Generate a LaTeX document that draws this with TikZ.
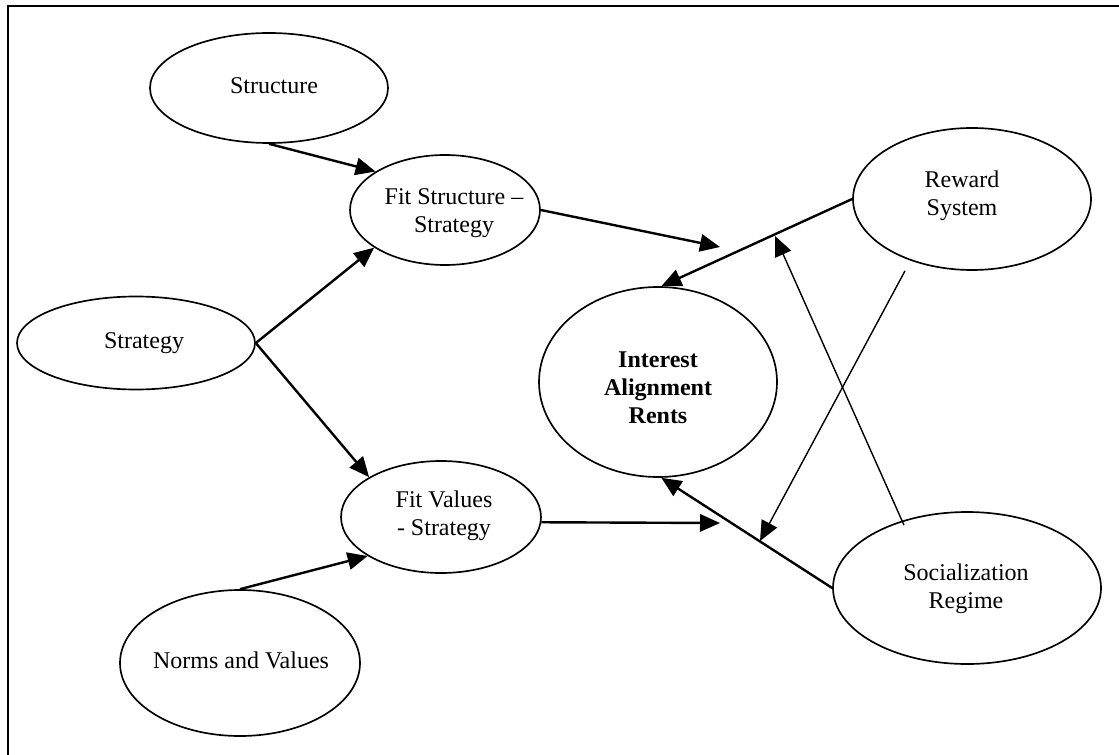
\documentclass[tikz,border=0pt]{standalone}
\usepackage{fontspec}
\setmainfont{Liberation Serif}
\usetikzlibrary{shapes.geometric,arrows.meta}
\begin{document}
\begin{tikzpicture}[x=0.75pt,y=-0.75pt,
  oval/.style={draw, ellipse, line width=1.25pt, inner sep=0pt},
  lbl/.style={align=center, font=\fontsize{18}{21}\selectfont, inner sep=0pt},
  strong/.style={line width=1.8pt, -{Triangle[length=15pt,width=13pt]}},
  weak/.style={line width=1.05pt, -{Triangle[length=15pt,width=13pt]}},
  frameline/.style={line width=1.8pt}
]
% canvas
\useasboundingbox (0,0) rectangle (1119,755);
\fill[white] (0,0) rectangle (1119,755);
\draw[frameline] (8,755) -- (8,6) -- (1119,6);

% ovals
\node[oval, minimum width=178.5pt, minimum height=82.5pt]  (st)  at (269,88)  {};
\node[oval, minimum width=142.5pt, minimum height=82.5pt]  (fs)  at (445,210) {};
\node[oval, minimum width=178.5pt, minimum height=69.75pt] (sg)  at (136,343) {};
\node[oval, minimum width=178.5pt, minimum height=142.5pt] (iar) at (658,382) {};
\node[oval, minimum width=178.5pt, minimum height=106.5pt] (rw)  at (972,199) {};
\node[oval, minimum width=150pt,   minimum height=84pt]    (fv)  at (441,517) {};
\node[oval, minimum width=180pt,   minimum height=109.5pt] (nv)  at (240,663) {};
\node[oval, minimum width=201pt,   minimum height=114pt]   (soc) at (967,588) {};

% texts
\node[lbl] (st-t)  at (274,86)  {Structure};
\node[lbl] (fs-t)  at (454,213) {Fit Structure –\\Strategy};
\node[lbl] (sg-t)  at (144,343) {Strategy};
\node[lbl] (iar-t) at (658,388) {\bfseries Interest\\\bfseries Alignment\\\bfseries Rents};
\node[lbl] (rw-t)  at (962,196) {Reward\\System};
\node[lbl] (fv-t)  at (444,516) {Fit Values\\- Strategy};
\node[lbl] (nv-t)  at (241,660) {Norms and Values};
\node[lbl] (soc-t) at (966,589) {Socialization\\Regime};

% free arrow ends
\coordinate (c1) at (720,247);
\coordinate (c2) at (720,523);
\coordinate (c3) at (760,541);
\coordinate (c4) at (775,236);

% connectors
\draw[strong] (st.south) -- (fs.151);
\draw[strong] (sg.east)  -- (fs.208);
\draw[strong] (sg.east)  -- (fv.151);
\draw[strong] (nv.north) -- (fv.208);
\draw[strong] (fs.east)  -- (c1);
\draw[strong] (rw.west)  -- (iar.88);
\draw[strong] (fv.-3)    -- (c2);
\draw[strong] (soc.west) -- (iar.-88);
\draw[weak] ([xshift=-50.25pt]rw.south) -- (c3);
\draw[weak] ([xshift=-47.25pt,yshift=-10.5pt]soc.north) -- (c4);
\end{tikzpicture}
\end{document}
